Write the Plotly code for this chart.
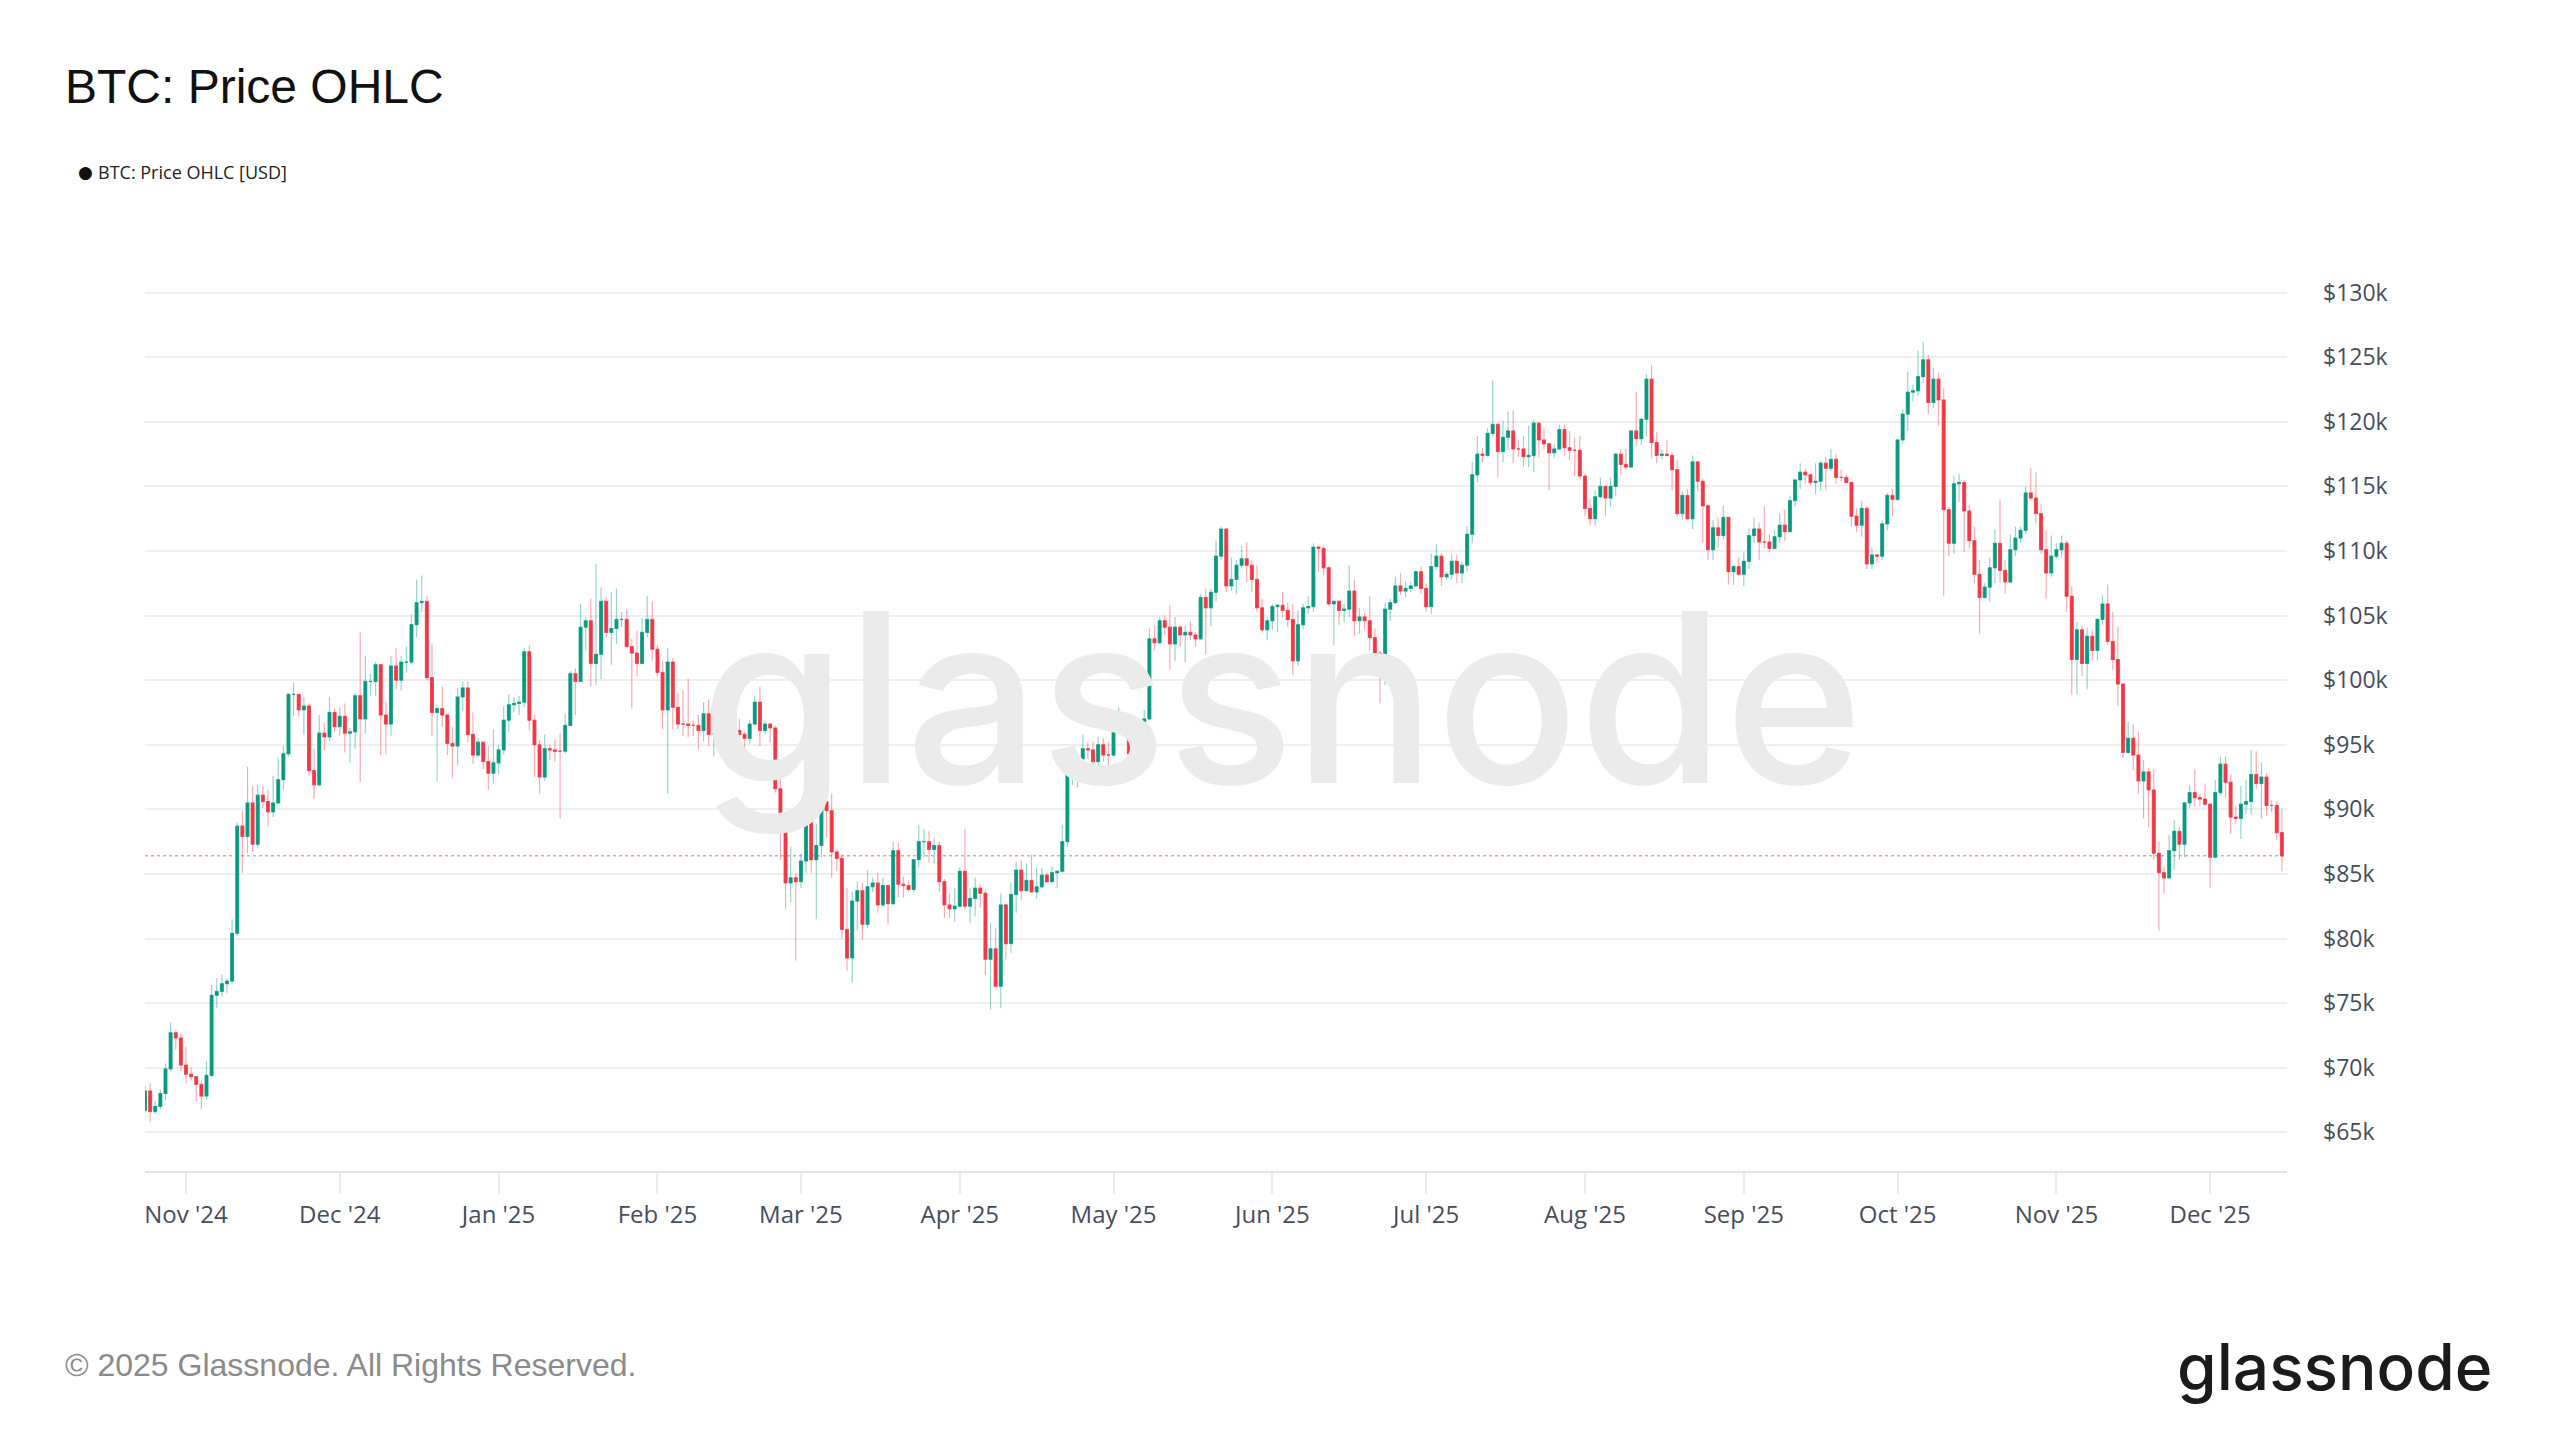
import pandas as pd
import plotly.graph_objects as go

# ---------------- data (prices in thousand USD, daily, starting 2024-10-24) ----------------
start_date = "2024-10-24"

open_k = [
    # Oct 24-31 2024
    66.7, 68.2, 66.6, 67.0, 68.0, 69.9, 72.7, 72.3,
    # Nov 2024
    70.2, 69.5, 69.3, 68.7, 67.8, 69.4, 75.6, 75.9, 76.5, 76.7, 80.4, 88.7, 87.9, 90.5, 87.3,
    91.1, 90.6, 89.8, 90.5, 92.3, 94.3, 98.9, 98.9, 97.7, 98.0, 93.0, 91.9, 95.9, 95.6, 97.5,
    # Dec 2024
    96.4, 97.2, 95.9, 96.0, 98.8, 97.0, 99.9, 99.9, 101.2, 97.3, 96.6, 101.1, 100.0, 101.4, 101.4,
    104.3, 106.0, 106.1, 100.2, 97.5, 97.8, 97.3, 95.1, 94.9, 98.7, 99.4, 95.8, 94.2, 95.2, 93.7, 92.8,
    # Jan 2025
    93.6, 94.6, 96.9, 98.1, 98.2, 98.3, 102.2, 96.9, 95.0, 92.5, 94.7, 94.6, 94.5, 94.5, 96.5,
    100.5, 99.9, 104.1, 104.6, 101.3, 102.0, 106.1, 103.7, 104.0, 104.7, 104.7, 102.6, 102.1, 101.3, 103.7, 104.7,
    # Feb 2025
    102.4, 100.6, 97.7, 101.4, 97.9, 96.6, 96.6, 96.5, 96.5, 96.1, 97.4, 95.8, 97.9, 96.6,
    97.5, 97.6, 96.1, 95.8, 95.5, 96.6, 98.3, 96.1, 96.6, 96.3, 91.6, 88.7, 84.3, 84.7,
    # Mar 2025
    84.4, 86.0, 94.3, 86.1, 87.2, 90.6, 89.9, 86.7, 86.2, 80.7, 78.5, 82.9, 83.7, 81.1, 84.0,
    84.3, 82.6, 84.1, 82.7, 86.8, 84.2, 84.1, 83.8, 86.1, 87.5, 87.5, 86.9, 87.2, 84.4, 82.6, 82.3,
    # Apr 2025
    82.5, 85.2, 82.5, 83.1, 83.9, 83.5, 78.4, 79.2, 76.3, 82.6, 79.6, 83.4, 85.3, 83.7, 84.5,
    83.6, 84.0, 84.9, 84.4, 85.1, 85.2, 87.5, 93.4, 93.7, 93.9, 94.7, 94.6, 93.7, 95.0, 94.2,
    # May 2025
    94.2, 96.5, 96.9, 95.9, 94.3, 94.7, 96.8, 97.0, 103.2, 102.9, 104.6, 104.1, 102.8, 104.1, 103.5,
    103.7, 103.5, 103.2, 106.4, 105.6, 106.8, 109.6, 111.7, 107.3, 107.8, 108.9, 109.4, 108.9, 107.8, 105.6, 103.9,
    # Jun 2025
    104.6, 105.7, 105.8, 105.4, 104.7, 101.5, 104.3, 105.6, 105.7, 110.3, 110.2, 108.7, 105.9, 106.1, 105.4,
    105.5, 106.9, 104.6, 104.9, 104.6, 103.3, 102.1, 100.9, 105.5, 106.0, 107.3, 106.9, 107.1, 107.3, 108.4,
    # Jul 2025
    107.1, 105.7, 108.8, 109.6, 108.0, 108.2, 109.2, 108.3, 108.9, 111.3, 115.9, 117.5, 117.4, 119.1, 119.8,
    117.7, 118.8, 119.3, 117.9, 117.9, 117.3, 117.4, 119.9, 118.6, 118.3, 117.6, 117.9, 119.4, 118.0, 117.8, 117.8,
    # Aug 2025
    115.8, 113.3, 112.5, 114.2, 115.0, 114.1, 115.0, 117.5, 116.7, 116.5, 119.3, 118.7, 120.2, 123.3, 118.4,
    117.4, 117.5, 117.4, 116.3, 112.9, 114.3, 112.5, 116.9, 115.4, 113.5, 110.1, 111.8, 111.2, 112.6, 108.4, 108.8,
    # Sep 2025
    108.2, 109.2, 111.2, 111.7, 110.7, 110.7, 110.2, 111.1, 112.0, 111.5, 113.9, 115.5, 116.1, 115.9, 115.3,
    115.4, 116.8, 116.4, 117.1, 115.7, 115.7, 115.3, 112.7, 112.0, 113.3, 109.0, 109.7, 109.6, 112.1, 114.3,
    # Oct 2025
    114.0, 118.6, 120.6, 122.3, 122.4, 123.5, 124.8, 121.5, 123.3, 121.7, 113.2, 110.6, 115.2, 115.3, 113.1,
    110.8, 108.2, 106.4, 107.2, 108.7, 110.6, 108.5, 107.6, 110.1, 111.0, 111.6, 114.5, 114.1, 112.9, 110.1, 108.3,
    # Nov 2025
    109.6, 110.1, 110.6, 106.5, 101.6, 103.9, 101.3, 103.4, 102.3, 104.7, 105.9, 103.0, 101.6, 99.7, 94.4,
    95.5, 94.2, 92.2, 92.9, 91.5, 86.6, 85.1, 84.7, 86.8, 88.3, 87.3, 90.5, 91.3, 90.9, 90.8,
    # Dec 1-15 2025
    90.4, 86.3, 91.3, 93.5, 92.1, 89.4, 89.3, 90.4, 90.6, 92.7, 92.0, 92.5, 90.3, 90.3, 88.2,
]

high_k = [
    68.6, 68.8, 67.4, 68.3, 70.3, 73.5, 72.9, 72.7,
    71.6, 70.0, 69.4, 69.0, 70.5, 76.4, 76.9, 77.2, 76.9, 81.5, 89.0, 89.9, 93.3, 91.8, 91.9,
    91.8, 91.5, 92.6, 94.0, 94.9, 99.0, 99.8, 98.9, 98.7, 98.2, 94.7, 97.3, 96.7, 98.7, 97.8,
    97.9, 98.2, 96.3, 99.0, 103.7, 101.9, 100.5, 101.4, 101.2, 98.3, 101.9, 102.5, 101.9, 102.6, 105.1,
    107.8, 108.1, 106.5, 102.8, 98.1, 99.5, 97.4, 96.4, 99.4, 99.9, 99.9, 97.5, 95.5, 95.2, 94.9, 96.2,
    95.0, 98.0, 98.9, 98.7, 98.8, 102.5, 102.7, 97.3, 95.4, 95.8, 95.0, 95.4, 95.9, 97.4, 100.7,
    100.9, 105.9, 104.9, 106.3, 109.0, 107.2, 106.4, 106.8, 107.1, 105.3, 105.5, 103.2, 103.8, 104.8, 106.5, 106.1,
    102.7, 101.5, 102.5, 101.7, 99.0, 99.2, 100.1, 96.9, 97.3, 98.3, 98.5, 98.1, 98.0, 98.8,
    97.9, 97.7, 97.0, 96.0, 96.9, 98.8, 99.5, 96.9, 96.7, 96.5, 92.5, 89.3, 87.1, 85.1,
    86.6, 95.0, 94.4, 88.9, 91.0, 92.8, 91.2, 86.9, 86.5, 83.9, 83.6, 84.4, 84.3, 85.3, 84.7,
    85.1, 84.7, 84.1, 87.5, 87.4, 84.8, 84.5, 86.1, 88.8, 88.5, 88.3, 87.8, 87.5, 84.6, 83.5, 83.9,
    85.5, 88.5, 83.9, 84.7, 84.2, 83.8, 81.2, 80.8, 83.5, 82.7, 84.3, 85.9, 86.1, 85.8, 86.5,
    85.5, 85.5, 85.1, 85.6, 85.3, 88.8, 93.9, 94.7, 94.0, 95.8, 95.2, 95.3, 95.6, 95.5, 95.2,
    97.4, 97.9, 96.9, 96.3, 95.2, 96.9, 97.7, 104.0, 104.3, 104.9, 105.0, 105.8, 104.9, 104.3, 104.2,
    104.6, 103.7, 106.7, 107.1, 107.1, 110.8, 111.9, 111.8, 109.5, 109.3, 110.4, 110.7, 109.3, 108.9, 106.3, 104.9,
    105.9, 105.9, 106.8, 106.0, 105.9, 105.4, 105.9, 106.5, 110.6, 110.4, 110.4, 108.8, 106.2, 106.2, 105.9,
    108.9, 107.8, 105.6, 105.2, 106.5, 104.0, 102.3, 106.0, 106.3, 108.0, 108.3, 107.7, 107.6, 108.5, 108.8,
    107.5, 109.8, 110.5, 109.8, 108.4, 109.7, 109.7, 109.2, 111.9, 116.9, 118.9, 118.0, 119.5, 123.2, 119.9,
    120.1, 120.8, 120.9, 118.6, 118.9, 119.7, 120.2, 120.0, 119.5, 118.4, 118.3, 119.8, 119.8, 119.3, 118.8, 118.9,
    116.0, 114.0, 114.7, 115.7, 115.1, 115.7, 117.6, 117.9, 117.9, 119.3, 122.3, 120.3, 123.7, 124.4, 119.2,
    117.9, 118.6, 117.6, 117.0, 114.6, 114.8, 117.4, 117.0, 115.6, 113.6, 112.4, 112.6, 113.5, 112.6, 108.9, 109.5,
    109.9, 111.8, 112.6, 112.2, 113.4, 111.3, 111.6, 112.9, 113.2, 114.3, 115.5, 116.8, 116.4, 116.0, 116.8,
    117.0, 117.3, 117.9, 117.5, 116.3, 115.9, 115.4, 113.3, 113.9, 113.5, 110.3, 109.8, 112.4, 114.5, 114.8,
    118.6, 121.0, 123.9, 122.9, 125.5, 126.2, 125.2, 124.2, 123.8, 122.6, 113.4, 115.8, 116.0, 115.5, 113.6,
    111.9, 109.3, 107.5, 109.5, 111.7, 114.0, 109.3, 111.3, 111.9, 111.9, 115.0, 116.4, 116.1, 113.6, 111.6, 111.2,
    110.6, 111.2, 110.8, 107.3, 104.5, 104.2, 104.1, 103.9, 104.8, 106.6, 107.4, 105.3, 104.1, 99.8, 96.8,
    96.6, 96.0, 93.8, 93.2, 93.1, 87.5, 85.6, 88.0, 89.2, 88.6, 90.6, 91.9, 93.1, 91.2, 92.0,
    90.4, 92.3, 94.1, 94.1, 92.7, 90.3, 91.8, 92.3, 94.6, 94.5, 93.6, 92.8, 90.7, 90.6, 90.0,
]

low_k = [
    66.5, 65.8, 66.4, 66.8, 67.5, 69.7, 71.4, 69.7,
    68.8, 69.0, 67.4, 66.8, 67.5, 69.3, 74.6, 75.5, 75.8, 76.5, 80.2, 85.1, 86.6, 86.7, 87.0,
    90.1, 88.7, 89.4, 90.4, 91.5, 94.1, 97.2, 97.2, 95.8, 92.6, 90.8, 91.8, 94.6, 95.3, 96.0,
    95.7, 94.4, 93.6, 94.7, 92.1, 95.9, 98.8, 98.8, 94.2, 94.3, 95.7, 99.3, 99.2, 100.6, 101.2,
    103.3, 105.3, 100.0, 95.7, 92.2, 96.4, 94.2, 92.4, 93.4, 97.6, 95.2, 93.5, 94.0, 93.1, 91.5, 92.0,
    92.7, 94.2, 96.0, 97.5, 97.3, 97.9, 96.1, 92.5, 91.2, 92.2, 93.8, 93.7, 89.3, 94.3, 96.5,
    97.3, 99.9, 102.3, 99.5, 99.6, 100.1, 103.3, 101.2, 102.8, 104.1, 102.5, 97.8, 100.3, 101.3, 103.3, 101.5,
    100.3, 96.2, 91.2, 96.2, 96.2, 95.7, 95.6, 95.7, 94.7, 95.3, 94.9, 94.1, 95.2, 96.3,
    97.1, 96.1, 95.2, 93.4, 95.1, 96.5, 94.9, 95.8, 95.2, 91.3, 86.1, 82.3, 82.8, 78.3,
    83.9, 85.1, 85.1, 81.5, 86.3, 87.8, 84.7, 85.2, 80.0, 77.5, 76.6, 80.6, 79.9, 80.8, 83.6,
    82.0, 82.4, 81.1, 82.6, 83.2, 83.2, 83.6, 83.6, 85.5, 86.3, 85.9, 85.8, 83.6, 81.6, 81.6, 81.3,
    82.4, 82.3, 81.2, 81.7, 82.4, 77.2, 74.5, 76.2, 74.6, 78.4, 78.9, 82.0, 83.0, 83.7, 83.6,
    83.1, 83.9, 84.3, 84.3, 83.9, 85.1, 87.1, 91.9, 91.7, 92.9, 93.9, 93.1, 92.9, 93.7, 92.9,
    94.1, 96.4, 95.7, 94.1, 93.5, 93.4, 95.8, 96.9, 102.3, 102.8, 103.5, 100.8, 101.5, 102.6, 101.4,
    103.1, 102.6, 103.1, 102.0, 104.2, 106.1, 109.3, 106.8, 106.9, 106.7, 108.7, 107.6, 106.8, 105.3, 103.7, 103.1,
    103.9, 103.7, 104.9, 104.1, 100.4, 101.1, 103.9, 105.1, 105.3, 108.4, 108.1, 105.7, 102.7, 104.3, 104.5,
    104.9, 103.4, 103.6, 103.9, 102.3, 100.8, 98.2, 99.6, 104.6, 105.9, 106.6, 106.4, 106.8, 107.2, 106.7,
    105.3, 105.1, 108.6, 107.3, 107.8, 107.8, 107.5, 107.5, 108.4, 110.6, 115.3, 116.9, 117.3, 118.9, 115.7,
    116.9, 117.8, 116.8, 117.3, 116.5, 116.5, 116.1, 117.3, 117.9, 114.7, 117.2, 117.8, 117.4, 117.0, 115.8, 115.6,
    112.7, 112.0, 112.0, 114.1, 112.7, 113.4, 114.3, 115.9, 116.3, 116.5, 118.1, 118.2, 118.9, 117.2, 116.8,
    117.1, 117.3, 114.7, 112.7, 112.4, 112.4, 111.7, 114.6, 110.7, 109.3, 109.3, 110.3, 110.9, 107.4, 107.4, 108.1,
    107.3, 108.6, 110.6, 109.3, 110.2, 109.9, 110.2, 110.6, 110.8, 111.5, 113.4, 114.8, 115.2, 115.1, 114.4,
    114.7, 114.7, 116.2, 115.2, 115.4, 115.3, 111.9, 111.5, 111.1, 108.6, 108.6, 109.1, 109.3, 111.6, 112.7,
    113.9, 118.3, 119.3, 121.6, 122.0, 123.0, 120.6, 121.1, 119.7, 106.5, 109.6, 109.8, 113.8, 109.9, 110.2,
    107.5, 103.6, 106.3, 106.1, 107.5, 107.5, 106.7, 107.5, 109.6, 110.6, 111.3, 113.9, 112.2, 109.8, 106.3, 108.0,
    109.4, 109.5, 105.3, 98.9, 98.9, 100.3, 99.3, 101.5, 101.5, 104.3, 102.7, 100.8, 98.0, 94.0, 94.3,
    93.0, 91.2, 89.3, 88.6, 86.1, 80.6, 83.5, 84.6, 85.3, 86.1, 86.3, 90.1, 90.2, 90.3, 90.3,
    83.9, 86.2, 91.1, 90.9, 88.1, 88.9, 87.7, 89.6, 89.6, 91.6, 89.3, 89.5, 89.8, 87.6, 85.2,
]

close_k = [
    68.2, 66.6, 67.0, 68.0, 69.9, 72.7, 72.3, 70.2,
    69.5, 69.3, 68.7, 67.8, 69.4, 75.6, 75.9, 76.5, 76.7, 80.4, 88.7, 87.9, 90.5, 87.3, 91.1,
    90.6, 89.8, 90.5, 92.3, 94.3, 98.9, 98.9, 97.7, 98.0, 93.0, 91.9, 95.9, 95.6, 97.5, 96.4,
    97.2, 95.9, 96.0, 98.8, 97.0, 99.9, 99.9, 101.2, 97.3, 96.6, 101.1, 100.0, 101.4, 101.4, 104.3,
    106.0, 106.1, 100.2, 97.5, 97.8, 97.3, 95.1, 94.9, 98.7, 99.4, 95.8, 94.2, 95.2, 93.7, 92.8, 93.6,
    94.6, 96.9, 98.1, 98.2, 98.3, 102.2, 96.9, 95.0, 92.5, 94.7, 94.6, 94.5, 94.5, 96.5, 100.5,
    99.9, 104.1, 104.6, 101.3, 102.0, 106.1, 103.7, 104.0, 104.7, 104.7, 102.6, 102.1, 101.3, 103.7, 104.7, 102.4,
    100.6, 97.7, 101.4, 97.9, 96.6, 96.6, 96.5, 96.5, 96.1, 97.4, 95.8, 97.9, 96.6, 97.5,
    97.6, 96.1, 95.8, 95.5, 96.6, 98.3, 96.1, 96.6, 96.3, 91.6, 88.7, 84.3, 84.7, 84.4,
    86.0, 94.3, 86.1, 87.2, 90.6, 89.9, 86.7, 86.2, 80.7, 78.5, 82.9, 83.7, 81.1, 84.0, 84.3,
    82.6, 84.1, 82.7, 86.8, 84.2, 84.1, 83.8, 86.1, 87.5, 87.5, 86.9, 87.2, 84.4, 82.6, 82.3, 82.5,
    85.2, 82.5, 83.1, 83.9, 83.5, 78.4, 79.2, 76.3, 82.6, 79.6, 83.4, 85.3, 83.7, 84.5, 83.6,
    84.0, 84.9, 84.4, 85.1, 85.2, 87.5, 93.4, 93.7, 93.9, 94.7, 94.6, 93.7, 95.0, 94.2, 94.2,
    96.5, 96.9, 95.9, 94.3, 94.7, 96.8, 97.0, 103.2, 102.9, 104.6, 104.1, 102.8, 104.1, 103.5, 103.7,
    103.5, 103.2, 106.4, 105.6, 106.8, 109.6, 111.7, 107.3, 107.8, 108.9, 109.4, 108.9, 107.8, 105.6, 103.9, 104.6,
    105.7, 105.8, 105.4, 104.7, 101.5, 104.3, 105.6, 105.7, 110.3, 110.2, 108.7, 105.9, 106.1, 105.4, 105.5,
    106.9, 104.6, 104.9, 104.6, 103.3, 102.1, 100.9, 105.5, 106.0, 107.3, 106.9, 107.1, 107.3, 108.4, 107.1,
    105.7, 108.8, 109.6, 108.0, 108.2, 109.2, 108.3, 108.9, 111.3, 115.9, 117.5, 117.4, 119.1, 119.8, 117.7,
    118.8, 119.3, 117.9, 117.9, 117.3, 117.4, 119.9, 118.6, 118.3, 117.6, 117.9, 119.4, 118.0, 117.8, 117.8, 115.8,
    113.3, 112.5, 114.2, 115.0, 114.1, 115.0, 117.5, 116.7, 116.5, 119.3, 118.7, 120.2, 123.3, 118.4, 117.4,
    117.5, 117.4, 116.3, 112.9, 114.3, 112.5, 116.9, 115.4, 113.5, 110.1, 111.8, 111.2, 112.6, 108.4, 108.8, 108.2,
    109.2, 111.2, 111.7, 110.7, 110.7, 110.2, 111.1, 112.0, 111.5, 113.9, 115.5, 116.1, 115.9, 115.3, 115.4,
    116.8, 116.4, 117.1, 115.7, 115.7, 115.3, 112.7, 112.0, 113.3, 109.0, 109.7, 109.6, 112.1, 114.3, 114.0,
    118.6, 120.6, 122.3, 122.4, 123.5, 124.8, 121.5, 123.3, 121.7, 113.2, 110.6, 115.2, 115.3, 113.1, 110.8,
    108.2, 106.4, 107.2, 108.7, 110.6, 108.5, 107.6, 110.1, 111.0, 111.6, 114.5, 114.1, 112.9, 110.1, 108.3, 109.6,
    110.1, 110.6, 106.5, 101.6, 103.9, 101.3, 103.4, 102.3, 104.7, 105.9, 103.0, 101.6, 99.7, 94.4, 95.5,
    94.2, 92.2, 92.9, 91.5, 86.6, 85.1, 84.7, 86.8, 88.3, 87.3, 90.5, 91.3, 90.9, 90.8, 90.4,
    86.3, 91.3, 93.5, 92.1, 89.4, 89.3, 90.4, 90.6, 92.7, 92.0, 92.5, 90.3, 90.3, 88.2, 86.4,
]

y_tick_vals = [65, 70, 75, 80, 85, 90, 95, 100, 105, 110, 115, 120, 125, 130]
y_tick_text = ["$65k", "$70k", "$75k", "$80k", "$85k", "$90k", "$95k", "$100k",
               "$105k", "$110k", "$115k", "$120k", "$125k", "$130k"]

assert len(open_k) == len(high_k) == len(low_k) == len(close_k), (
    len(open_k), len(high_k), len(low_k), len(close_k))

dates = pd.date_range(start_date, periods=len(close_k), freq="D")
body_top = [max(o, c) for o, c in zip(open_k, close_k)]
body_bot = [min(o, c) for o, c in zip(open_k, close_k)]

# ---------------- styling ----------------
# The page body has an 8px default margin; lay everything out in page pixels minus that.
OFF = 8
W, H = 2560 - OFF, 1440 - OFF
PLOT_LEFT, PLOT_RIGHT, PLOT_TOP, PLOT_BOTTOM = 145, 2287, 241, 1171  # page px
L = PLOT_LEFT - OFF
T = PLOT_TOP - OFF
R = W - (PLOT_RIGHT - OFF)
B = H - (PLOT_BOTTOM - OFF)
PW, PH = W - L - R, H - T - B
GREEN = "#089981"
RED = "#f23645"
GREEN_WICK = "rgba(8,153,129,0.42)"
RED_WICK = "rgba(242,54,69,0.42)"
TICK_COLOR = "#474d5a"


def px_x(px):
    return (px - OFF - L) / PW


def px_y(py):
    return (H - B - (py - OFF)) / PH


fig = go.Figure()

# watermark (below candles)
fig.add_trace(go.Scatter(
    x=[pd.Timestamp("2025-06-02 19:00")], y=[96.6], mode="text", text=["glassnode"],
    textposition="middle center",
    textfont=dict(family="Inter", size=236, color="#ebebeb", weight=500),
    hoverinfo="skip", showlegend=False, cliponaxis=False,
))

# wicks (light)
fig.add_trace(go.Candlestick(
    x=dates, open=open_k, high=high_k, low=low_k, close=close_k,
    increasing=dict(line=dict(color=GREEN_WICK, width=1.2), fillcolor=GREEN_WICK),
    decreasing=dict(line=dict(color=RED_WICK, width=1.2), fillcolor=RED_WICK),
    whiskerwidth=0, showlegend=False, hoverinfo="skip",
))

# bodies (solid)
fig.add_trace(go.Candlestick(
    x=dates, open=open_k, high=body_top, low=body_bot, close=close_k,
    increasing=dict(line=dict(color=GREEN, width=0.6), fillcolor=GREEN),
    decreasing=dict(line=dict(color=RED, width=0.6), fillcolor=RED),
    whiskerwidth=0, showlegend=False, name="BTC: Price OHLC [USD]",
))

# last price dotted line
fig.add_shape(type="line", xref="paper", x0=0, x1=1, yref="y", y0=close_k[-1], y1=close_k[-1],
              line=dict(color="rgba(242,54,69,0.5)", width=1.5, dash="dot"), layer="below")

fig.update_layout(
    width=W, height=H,
    margin=dict(l=L, r=R, t=T, b=B, autoexpand=False),
    paper_bgcolor="white", plot_bgcolor="white",
    showlegend=False,
    boxgap=0.2,
    title=dict(text="BTC: Price OHLC", x=(65 - OFF) / W, xanchor="left",
               y=1 - (86 - OFF) / H, yanchor="middle",
               font=dict(family="Liberation Sans", size=48, color="#111111")),
    xaxis=dict(
        type="date", range=["2024-10-24", "2025-12-16"],
        rangeslider=dict(visible=False),
        showgrid=False, zeroline=False,
        showline=True, linecolor="#e3e3e3", linewidth=2,
        ticks="outside", ticklen=21, tickwidth=1.5, tickcolor="#ececec",
        tick0="2024-11-01", dtick="M1", tickformat="%b '%y",
        tickfont=dict(family="Open Sans", size=24, color=TICK_COLOR),
    ),
    yaxis=dict(
        side="right", range=[62, 134],
        tickvals=y_tick_vals, ticktext=y_tick_text,
        showgrid=True, gridcolor="#efefef", gridwidth=1.5,
        zeroline=False, showline=False, ticks="",
        ticklabelstandoff=35,
        tickfont=dict(family="Open Sans", size=23, color=TICK_COLOR),
    ),
)

annotations = [
    # legend entry
    dict(text="●", x=px_x(76), y=px_y(172), xanchor="left", yanchor="middle",
         font=dict(family="DejaVu Sans", size=17, color="#111111")),
    dict(text="BTC: Price OHLC [USD]", x=px_x(96), y=px_y(172), xanchor="left", yanchor="middle",
         font=dict(family="Open Sans", size=18, color="#222222")),
    # footer
    dict(text="© 2025 Glassnode. All Rights Reserved.", x=px_x(63), y=px_y(1365),
         xanchor="left", yanchor="middle",
         font=dict(family="Liberation Sans", size=32, color="#8a8a8a")),
    # logo
    dict(text="glassnode", x=px_x(2494), y=px_y(1366), xanchor="right", yanchor="middle",
         font=dict(family="Inter", size=64, color="#1b1b1b", weight=500)),
]
for a in annotations:
    a.update(xref="paper", yref="paper", showarrow=False)
fig.update_layout(annotations=annotations)

fig.write_html("out.html")
